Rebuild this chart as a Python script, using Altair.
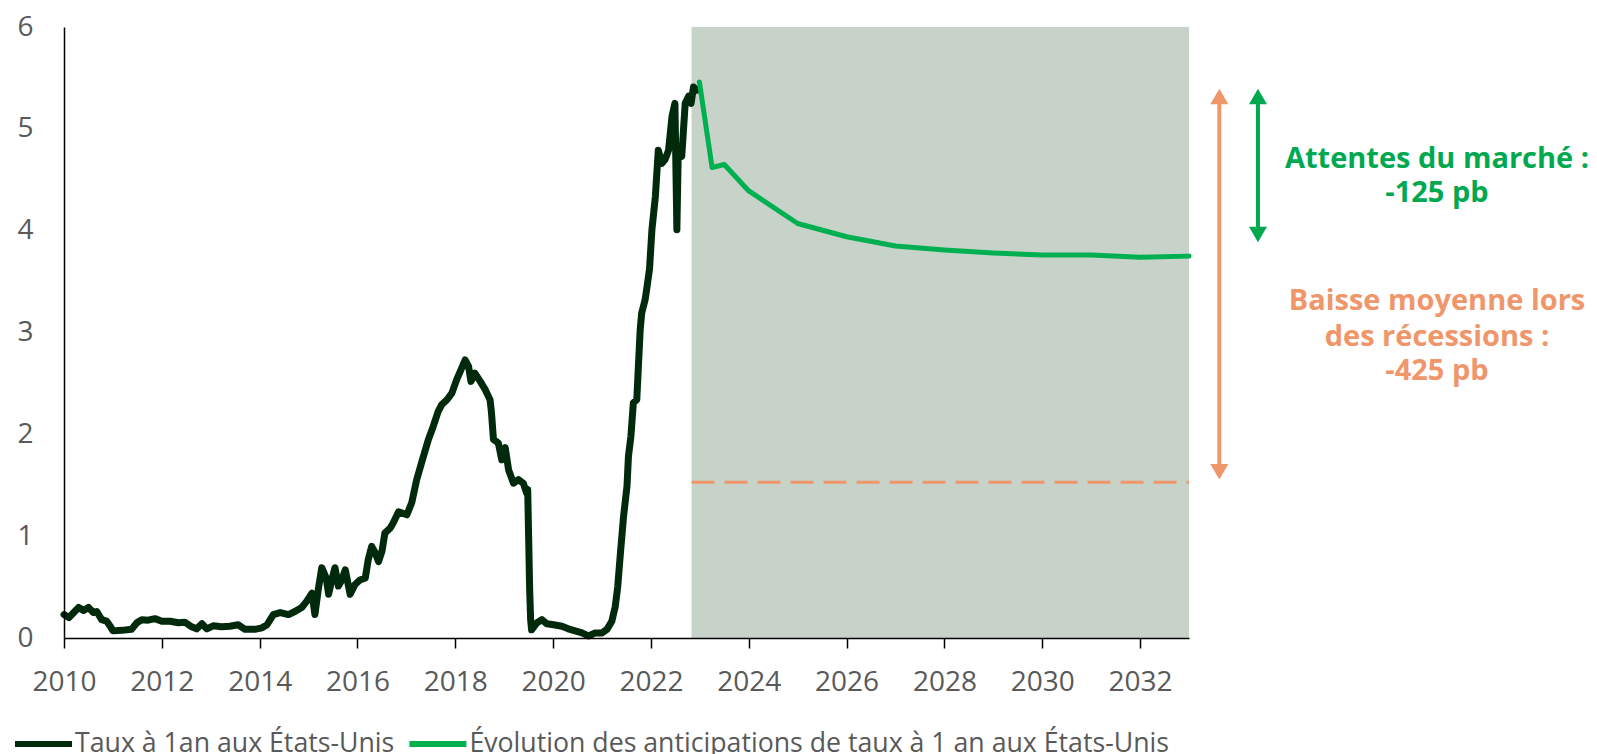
import altair as alt
import pandas as pd

# ---- data ----
hist_year = [2010.00, 2010.10, 2010.20, 2010.30, 2010.40, 2010.50, 2010.60, 2010.67, 2010.77, 2010.87,
             2010.94, 2011.00, 2011.18, 2011.38, 2011.49, 2011.59, 2011.72, 2011.86, 2012.00, 2012.17,
             2012.34, 2012.47, 2012.61, 2012.71, 2012.82, 2012.92, 2013.05, 2013.22, 2013.39, 2013.56,
             2013.70, 2013.90, 2014.05, 2014.15, 2014.28, 2014.42, 2014.59, 2014.72, 2014.86, 2014.96,
             2015.07, 2015.13, 2015.20, 2015.27, 2015.36, 2015.41, 2015.47, 2015.54, 2015.61, 2015.68,
             2015.75, 2015.85, 2015.95, 2016.05, 2016.16, 2016.22, 2016.29, 2016.36, 2016.43, 2016.50,
             2016.56, 2016.67, 2016.73, 2016.84, 2017.01, 2017.11, 2017.21, 2017.31, 2017.45, 2017.55,
             2017.65, 2017.72, 2017.83, 2017.93, 2018.03, 2018.13, 2018.20, 2018.27, 2018.32, 2018.40,
             2018.51, 2018.61, 2018.71, 2018.74, 2018.78, 2018.88, 2018.95, 2019.02, 2019.09, 2019.19,
             2019.29, 2019.39, 2019.46, 2019.48, 2019.50, 2019.52, 2019.54, 2019.56, 2019.67, 2019.77,
             2019.87, 2020.01, 2020.18, 2020.31, 2020.45, 2020.59, 2020.72, 2020.86, 2021.00, 2021.10,
             2021.20, 2021.27, 2021.32, 2021.37, 2021.44, 2021.51, 2021.54, 2021.59, 2021.64, 2021.71,
             2021.74, 2021.78, 2021.81, 2021.88, 2021.92, 2021.97, 2022.02, 2022.09, 2022.15, 2022.22,
             2022.29, 2022.36, 2022.43, 2022.49, 2022.53, 2022.56, 2022.63, 2022.70, 2022.77, 2022.82,
             2022.87, 2022.94]
hist_rate = [0.23, 0.20, 0.25, 0.30, 0.27, 0.30, 0.25, 0.26, 0.18, 0.165,
             0.12, 0.07, 0.075, 0.085, 0.15, 0.18, 0.175, 0.19, 0.165, 0.165,
             0.15, 0.155, 0.11, 0.09, 0.14, 0.09, 0.12, 0.11, 0.115, 0.13,
             0.085, 0.085, 0.10, 0.13, 0.23, 0.25, 0.23, 0.26, 0.30, 0.36,
             0.44, 0.23, 0.48, 0.69, 0.59, 0.43, 0.56, 0.69, 0.51, 0.57,
             0.67, 0.43, 0.525, 0.57, 0.59, 0.77, 0.90, 0.84, 0.75, 0.85,
             1.03, 1.08, 1.13, 1.24, 1.21, 1.33, 1.555, 1.72, 1.95, 2.08,
             2.225, 2.29, 2.34, 2.405, 2.54, 2.65, 2.73, 2.67, 2.52, 2.60,
             2.52, 2.44, 2.34, 2.21, 1.95, 1.915, 1.75, 1.87, 1.65, 1.52,
             1.555, 1.52, 1.42, 1.46, 0.97, 0.48, 0.18, 0.08, 0.15, 0.18,
             0.14, 0.13, 0.115, 0.09, 0.07, 0.05, 0.02, 0.05, 0.05, 0.085,
             0.165, 0.31, 0.50, 0.80, 1.195, 1.49, 1.785, 1.98, 2.31, 2.34,
             2.635, 3.03, 3.19, 3.32, 3.45, 3.62, 4.01, 4.335, 4.79, 4.66,
             4.70, 4.79, 5.12, 5.25, 4.01, 4.83, 4.73, 5.25, 5.32, 5.25,
             5.41, 5.38]

fc_year = [2022.99, 2023.25, 2023.50, 2024.00, 2025.00, 2026.00, 2027.00, 2028.00, 2029.00,
           2030.00, 2031.00, 2032.00, 2033.00]
fc_rate = [5.46, 4.62, 4.65, 4.39, 4.07, 3.94, 3.85, 3.81, 3.78, 3.76, 3.76, 3.74, 3.75]

series_names = ["Taux à 1an aux États-Unis",
                "Évolution des anticipations de taux à 1 an aux États-Unis"]
series_colors = ["#012a0d", "#00b050"]

x_ticks = [2010, 2012, 2014, 2016, 2018, 2020, 2022, 2024, 2026, 2028, 2030, 2032]
y_ticks = [0, 1, 2, 3, 4, 5, 6]

forecast_start = 2022.83
x_end = 2033
recession_level = 1.53
arrow_top = 5.42
market_bottom = 3.86
orange_arrow_x = 2033.62
green_arrow_x = 2034.41
text_x = 2038.07

green_lines = ["Attentes du marché :", "-125 pb"]
green_line_y = [4.62, 4.285]
orange_lines = ["Baisse moyenne lors", "des récessions :", "-425 pb"]
orange_line_y = [3.225, 2.865, 2.535]

# ---- styling ----
GREEN = "#00a94f"
ORANGE = "#f0966b"
SHADE = "#c7d2c8"
GREY = "#595959"
FONT = "Open Sans"
W, H = 1125, 611
px_per_unit = H / 6.0
head_off = 10.4  # px from triangle centre to its tip

xs = alt.Scale(domain=[2010, x_end], nice=False, zero=False)
ys = alt.Scale(domain=[0, 6], nice=False, zero=False)
x_axis = alt.Axis(values=x_ticks, format="d", labelFont=FONT, labelFontSize=28, labelColor=GREY,
                  tickColor="black", tickSize=10, tickWidth=1.5, domainColor="black", domainWidth=1.5,
                  grid=False, labelPadding=20, title=None, labelFlush=False, zindex=1)
y_axis = alt.Axis(values=y_ticks, format="d", ticks=False, labelFont=FONT, labelFontSize=28,
                  labelColor=GREY, domainColor="black", domainWidth=1.5, grid=False,
                  labelPadding=31, title=None, zindex=1)

hist_df = pd.DataFrame({"x": hist_year, "y": hist_rate, "series": series_names[0]})
fc_df = pd.DataFrame({"x": fc_year, "y": fc_rate, "series": series_names[1]})

color = alt.Color("series:N",
                  scale=alt.Scale(domain=series_names, range=series_colors),
                  legend=alt.Legend(orient="none", legendX=-52, legendY=685, direction="horizontal",
                                    symbolType="stroke", symbolSize=3249, symbolStrokeWidth=6,
                                    labelFont=FONT, labelFontSize=26.7, labelColor=GREY,
                                    labelLimit=0, columnPadding=2.4, labelOffset=0, title=None,
                                    padding=0))

shade_df = pd.DataFrame({"x": [forecast_start], "x2": [x_end], "y": [0], "y2": [6]})
shade = alt.Chart(shade_df).mark_rect(color=SHADE).encode(
    x=alt.X("x:Q", scale=xs, axis=x_axis), x2="x2", y=alt.Y("y:Q", scale=ys, axis=y_axis), y2="y2")

dash_df = pd.DataFrame({"x": [forecast_start], "x2": [x_end], "y": [recession_level]})
dash = alt.Chart(dash_df).mark_rule(color=ORANGE, strokeWidth=3, strokeDash=[23, 10]).encode(
    x=alt.X("x:Q", scale=xs), x2="x2", y=alt.Y("y:Q", scale=ys))

hist = alt.Chart(hist_df).mark_line(strokeWidth=7, strokeJoin="round", strokeCap="round").encode(
    x=alt.X("x:Q", scale=xs), y=alt.Y("y:Q", scale=ys), color=color)
fc = alt.Chart(fc_df).mark_line(strokeWidth=5, strokeJoin="round", strokeCap="round").encode(
    x=alt.X("x:Q", scale=xs), y=alt.Y("y:Q", scale=ys), color=color)

shift = head_off / px_per_unit
arrows_df = pd.DataFrame({
    "x": [orange_arrow_x, green_arrow_x],
    "top": [arrow_top, arrow_top],
    "bottom": [recession_level, market_bottom],
    "col": [ORANGE, GREEN],
})
arrows_df["s_top"] = arrows_df["top"] - shift
arrows_df["s_bot"] = arrows_df["bottom"] + shift

layers = [shade, dash, hist, fc]
for _, r in arrows_df.iterrows():
    d = pd.DataFrame([r])
    layers.append(alt.Chart(d).mark_rule(color=r["col"], strokeWidth=4).encode(
        x=alt.X("x:Q", scale=xs), y=alt.Y("s_top:Q", scale=ys), y2="s_bot"))
    layers.append(alt.Chart(d).mark_point(shape="triangle-up", filled=True, size=324, opacity=1,
                                          color=r["col"], strokeWidth=0, yOffset=head_off).encode(
        x=alt.X("x:Q", scale=xs), y=alt.Y("top:Q", scale=ys)))
    layers.append(alt.Chart(d).mark_point(shape="triangle-down", filled=True, size=324, opacity=1,
                                          color=r["col"], strokeWidth=0, yOffset=-head_off).encode(
        x=alt.X("x:Q", scale=xs), y=alt.Y("bottom:Q", scale=ys)))

g_df = pd.DataFrame({"x": text_x, "y": green_line_y, "t": green_lines})
o_df = pd.DataFrame({"x": text_x, "y": orange_line_y, "t": orange_lines})
for d, c in [(g_df, GREEN), (o_df, ORANGE)]:
    layers.append(alt.Chart(d).mark_text(align="center", baseline="alphabetic", font=FONT,
                                         fontWeight="bold", fontSize=29, color=c).encode(
        x=alt.X("x:Q", scale=xs), y=alt.Y("y:Q", scale=ys), text="t:N"))

chart = alt.layer(*layers).properties(
    width=W, height=H,
    autosize=alt.AutoSizeParams(type="none"),
    padding={"left": 56, "top": 19, "right": 400, "bottom": 116},
).configure_view(strokeWidth=0)

chart.save("out.html", embed_options={"renderer": "svg", "actions": False})
